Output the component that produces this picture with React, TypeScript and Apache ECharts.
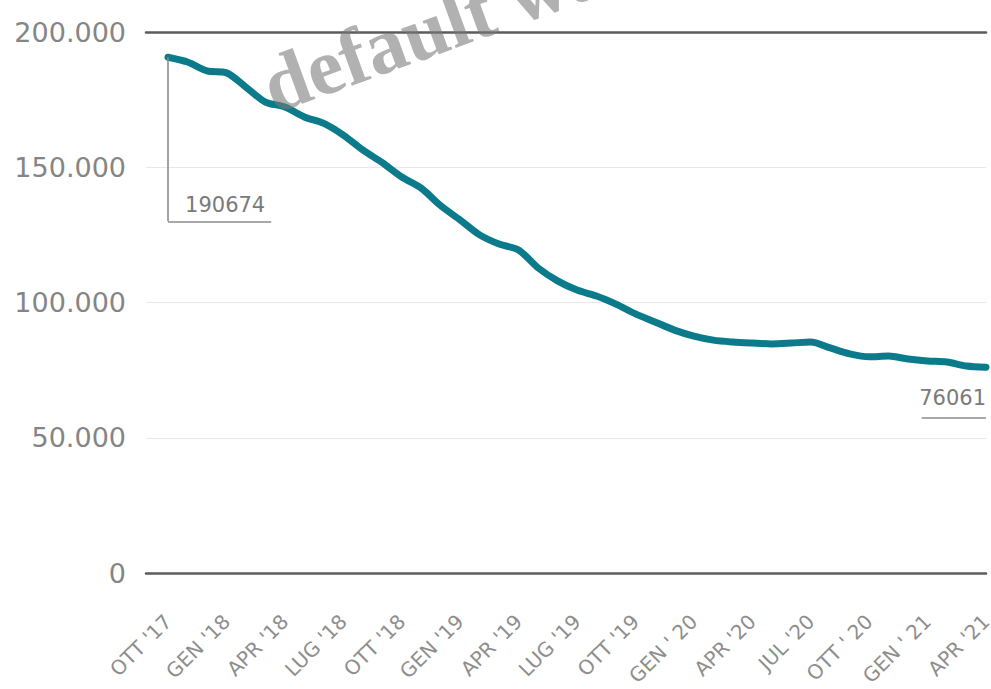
import React, { useEffect, useRef } from "react";
import * as echarts from "echarts";

// Monthly values, OTT '17 .. APR '21 (43 months)
const monthValues = [
  190674, 188900, 185600, 184900, 179600, 174100, 172300, 168600, 166200, 161900,
  156400, 151700, 146400, 142300, 135800, 130500, 125000, 121600, 119400, 112800,
  108000, 104600, 102400, 99400, 95800, 92800, 89800, 87600, 86100, 85400,
  85000, 84700, 85000, 85400, 83200, 81000, 79900, 80200, 79100, 78400,
  78000, 76500, 76061,
];

// Quarter labels (one every 3 months)
const xLabels = [
  "OTT '17", "GEN '18", "APR '18", "LUG '18", "OTT '18", "GEN '19", "APR '19",
  "LUG '19", "OTT '19", "GEN ' 20", "APR '20", "JUL '20", "OTT ' 20", "GEN ' 21", "APR '21",
];

const yTicks = [0, 50000, 100000, 150000, 200000];

const startLabel = "190674";
const endLabel = "76061";

const fmtThousands = (v: number) =>
  String(v).replace(/\B(?=(\d{3})+(?!\d))/g, ".");

export default function App() {
  const ref = useRef<HTMLDivElement>(null);

  useEffect(() => {
    if (!ref.current) return;
    const chart = echarts.init(ref.current, undefined, { renderer: "svg" });
    const tickPositions = xLabels.map((_, i) => i * 3);
    const lastIdx = monthValues.length - 1;
    const xMin = -1.13;

    chart.setOption({
      animation: false,
      backgroundColor: "#ffffff",
      grid: {
        left: 146,
        right: 5,
        top: 32,
        bottom: 116,
        containLabel: false,
        outerBoundsMode: "none",
      },
      xAxis: [
        {
          type: "value",
          min: xMin,
          max: lastIdx,
          position: "bottom",
          axisLine: { show: true, onZero: false, lineStyle: { color: "#5c5c5c", width: 2.5 } },
          axisTick: { show: false },
          splitLine: { show: false },
          axisLabel: {
            show: true,
            customValues: tickPositions,
            formatter: (v: number) => xLabels[Math.round(v / 3)] ?? "",
            rotate: 45,
            margin: 45,
            color: "#8e8e8e",
            fontSize: 20,
            fontFamily: "DejaVu Sans",
          },
        },
        {
          type: "value",
          min: xMin,
          max: lastIdx,
          position: "top",
          axisLine: { show: true, onZero: false, lineStyle: { color: "#5c5c5c", width: 2.5 } },
          axisTick: { show: false },
          axisLabel: { show: false },
          splitLine: { show: false },
        },
      ],
      yAxis: {
        type: "value",
        min: yTicks[0],
        max: yTicks[yTicks.length - 1],
        interval: yTicks[1] - yTicks[0],
        axisLine: { show: false },
        axisTick: { show: false },
        splitLine: { show: true, lineStyle: { color: "#e8e8e8", width: 1.2 } },
        axisLabel: {
          formatter: (v: number) => fmtThousands(v),
          color: "#858585",
          fontSize: 27,
          fontFamily: "DejaVu Sans",
          margin: 20,
        },
      },
      series: [
        {
          type: "line",
          data: monthValues.map((v, i) => [i, v]),
          smooth: 0.3,
          clip: false,
          showSymbol: false,
          symbol: "none",
          lineStyle: { color: "#0b7a8b", width: 7, cap: "round", join: "round" },
          z: 3,
          markLine: {
            silent: true,
            symbol: "none",
            animation: false,
            lineStyle: { color: "#8c8c8c", width: 1.6, type: "solid" },
            label: { show: false },
            data: [
              [{ coord: [0, monthValues[0]] }, { coord: [0, 130000] }],
              [
                {
                  coord: [0, 130000],
                  label: {
                    show: true,
                    formatter: startLabel,
                    position: "insideEndTop",
                    color: "#7a7a7a",
                    fontSize: 21,
                    fontFamily: "DejaVu Sans",
                    distance: 6,
                  },
                },
                { coord: [5.3, 130000] },
              ],
              [
                {
                  coord: [38.7, 57300],
                  label: {
                    show: true,
                    formatter: endLabel,
                    position: "insideEndTop",
                    color: "#7a7a7a",
                    fontSize: 21,
                    fontFamily: "DejaVu Sans",
                    distance: [0, 10],
                  },
                },
                { coord: [lastIdx, 57300] },
              ],
            ],
          },
        },
      ],
      graphic: [
        {
          type: "text",
          x: 279,
          y: 126,
          rotation: (20 * Math.PI) / 180,
          z: 100,
          silent: true,
          style: {
            text: "default watermark",
            font: 'bold 80px "Liberation Serif"',
            fill: "rgba(120,120,120,0.58)",
            verticalAlign: "bottom",
            align: "left",
          },
        },
      ],
    });

    return () => chart.dispose();
  }, []);

  return (
    <div
      ref={ref}
      style={{ position: "absolute", left: 0, top: 0, width: 991, height: 689 }}
    />
  );
}
